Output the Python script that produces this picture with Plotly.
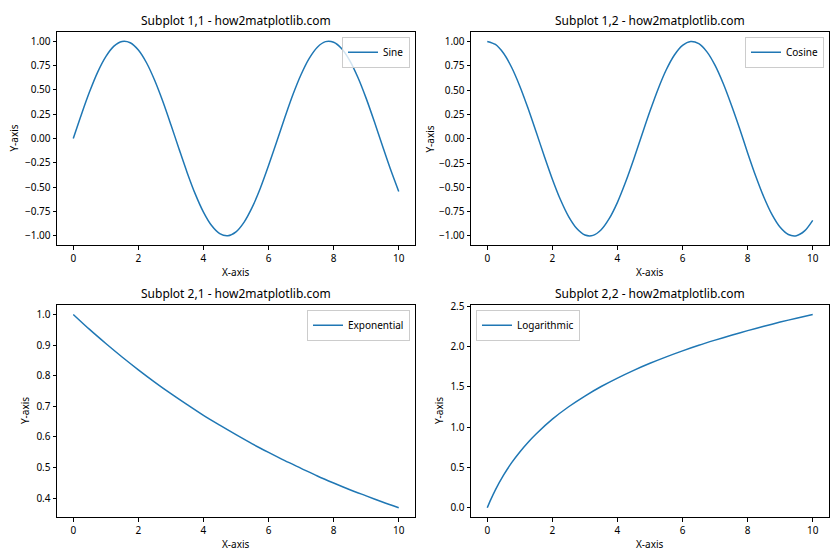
import plotly.graph_objects as go

# Data
trig_x = [0, 0.25, 0.5, 0.75, 1, 1.25, 1.5, 1.75, 2, 2.25, 2.5, 2.75, 3, 3.25, 3.5, 3.75, 4,
          4.25, 4.5, 4.75, 5, 5.25, 5.5, 5.75, 6, 6.25, 6.5, 6.75, 7, 7.25, 7.5, 7.75, 8,
          8.25, 8.5, 8.75, 9, 9.25, 9.5, 9.75, 10]
sine_vals = [0.0, 0.247, 0.479, 0.682, 0.841, 0.949, 0.997, 0.984, 0.909, 0.778, 0.598,
             0.382, 0.141, -0.108, -0.351, -0.572, -0.757, -0.895, -0.978, -0.999, -0.959,
             -0.859, -0.706, -0.509, -0.279, -0.033, 0.215, 0.451, 0.657, 0.823, 0.938,
             0.995, 0.989, 0.922, 0.798, 0.624, 0.412, 0.174, -0.075, -0.319, -0.544]
cosine_vals = [1.0, 0.969, 0.878, 0.732, 0.540, 0.315, 0.071, -0.178, -0.416, -0.628, -0.801,
               -0.924, -0.990, -0.994, -0.936, -0.820, -0.654, -0.446, -0.211, 0.038, 0.284,
               0.512, 0.709, 0.861, 0.960, 1.000, 0.977, 0.893, 0.754, 0.568, 0.347,
               0.108, -0.146, -0.386, -0.602, -0.781, -0.911, -0.985, -0.997, -0.948, -0.839]
exp_x = [0, 0.5, 1, 1.5, 2, 2.5, 3, 3.5, 4, 4.5, 5, 5.5, 6, 6.5, 7, 7.5, 8, 8.5, 9, 9.5, 10]
exp_vals = [1.0, 0.951, 0.905, 0.861, 0.819, 0.779, 0.741, 0.705, 0.670, 0.638, 0.607,
            0.577, 0.549, 0.522, 0.497, 0.472, 0.449, 0.427, 0.407, 0.387, 0.368]
log_x = [0, 0.1, 0.25, 0.5, 0.75, 1, 1.25, 1.5, 2, 2.5, 3, 3.5, 4, 4.5, 5, 5.5, 6, 6.5, 7,
         7.5, 8, 8.5, 9, 9.5, 10]
log_vals = [0.0, 0.095, 0.223, 0.405, 0.560, 0.693, 0.811, 0.916, 1.099, 1.253, 1.386, 1.504,
            1.609, 1.705, 1.792, 1.872, 1.946, 2.015, 2.079, 2.140, 2.197, 2.251, 2.303,
            2.351, 2.398]

series_names = ["Sine", "Cosine", "Exponential", "Logarithmic"]
titles = ["Subplot 1,1 - how2matplotlib.com", "Subplot 1,2 - how2matplotlib.com",
          "Subplot 2,1 - how2matplotlib.com", "Subplot 2,2 - how2matplotlib.com"]
y_tick_sets = [
    [-1.0, -0.75, -0.5, -0.25, 0.0, 0.25, 0.5, 0.75, 1.0],
    [-1.0, -0.75, -0.5, -0.25, 0.0, 0.25, 0.5, 0.75, 1.0],
    [0.4, 0.5, 0.6, 0.7, 0.8, 0.9, 1.0],
    [0.0, 0.5, 1.0, 1.5, 2.0, 2.5],
]
y_formats = [".2f", ".2f", ".1f", ".1f"]
x_ticks = [0, 2, 4, 6, 8, 10]

W, H = 840, 560
# axes boxes in pixels (left, right, top, bottom)
boxes = [(57, 415, 26, 242), (471, 829, 26, 242), (57, 415, 302, 517), (471, 829, 302, 517)]
ylabel_x = [14, 430, 25, 439]
legend_pos = ["right", "right", "right", "left"]

FONT = "Noto Sans"
BLUE = "#1f77b4"

fig = go.Figure()
all_x = [trig_x, trig_x, exp_x, log_x]
all_y = [sine_vals, cosine_vals, exp_vals, log_vals]

layout = dict(
    width=W, height=H, margin=dict(l=0, r=0, t=0, b=0),
    paper_bgcolor="white", plot_bgcolor="white",
    font=dict(family=FONT, size=10, color="black"),
    showlegend=True,
)
annotations = []

for i in range(4):
    ax = "" if i == 0 else str(i + 1)
    left, right, top, bottom = boxes[i]
    xd = [left / W, right / W]
    yd = [1 - bottom / H, 1 - top / H]
    yv = all_y[i]
    ymin, ymax = min(yv), max(yv)
    pad = 0.05 * (ymax - ymin)
    leg = "legend" if i == 0 else "legend" + str(i + 1)
    fig.add_trace(go.Scatter(
        x=all_x[i], y=yv, mode="lines", name=series_names[i],
        line=dict(color=BLUE, width=1.5, shape="spline", smoothing=0.8),
        xaxis="x" + ax, yaxis="y" + ax, legend=leg,
    ))
    common = dict(showline=True, linecolor="black", linewidth=1, mirror=True,
                  ticks="outside", ticklen=3.5, tickwidth=1, tickcolor="black",
                  showgrid=False, zeroline=False, tickfont=dict(size=10, family=FONT))
    layout["xaxis" + ax] = dict(domain=xd, range=[-0.5, 10.5], tickvals=x_ticks,
                                anchor="y" + ax, **common)
    layout["yaxis" + ax] = dict(domain=yd, range=[ymin - pad, ymax + pad],
                                tickvals=y_tick_sets[i], tickformat=y_formats[i],
                                anchor="x" + ax, **common)
    if legend_pos[i] == "right":
        lx, xa = (right - 5) / W, "right"
    else:
        lx, xa = (left + 5) / W, "left"
    layout[leg] = dict(x=lx, xanchor=xa, y=1 - (top + 5) / H, yanchor="top",
                       bgcolor="rgba(255,255,255,0.8)", bordercolor="#cccccc", borderwidth=1,
                       font=dict(size=10, family=FONT), itemwidth=30,
                       tracegroupgap=0)
    annotations.append(dict(text=titles[i], x=(left + right) / 2 / W, y=1 - (top - 11) / H,
                            xref="paper", yref="paper", showarrow=False,
                            xanchor="center", yanchor="middle",
                            font=dict(size=12, family=FONT)))
    annotations.append(dict(text="X-axis", x=(left + right) / 2 / W, y=1 - (bottom + 27) / H,
                            xref="paper", yref="paper", showarrow=False,
                            xanchor="center", yanchor="middle",
                            font=dict(size=10, family=FONT)))
    annotations.append(dict(text="Y-axis", x=ylabel_x[i] / W, y=1 - (top + bottom) / 2 / H,
                            xref="paper", yref="paper", showarrow=False, textangle=-90,
                            xanchor="center", yanchor="middle",
                            font=dict(size=10, family=FONT)))

layout["annotations"] = annotations
fig.update_layout(**layout)
fig.write_html("out.html")
